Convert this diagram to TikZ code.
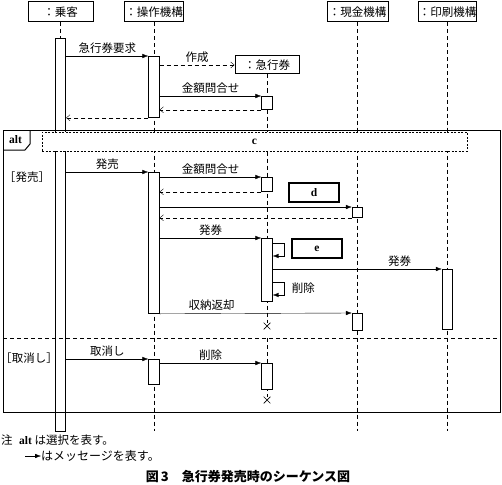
\documentclass[tikz,border=0pt]{standalone}
\usepackage{fontspec}
\usepackage{tikz}
\usetikzlibrary{arrows.meta,shapes.misc,backgrounds}
\setmainfont{Liberation Serif}
\newfontfamily\jp{Noto Sans CJK JP}
\newcommand{\jsize}{\fontsize{11.5pt}{13pt}\selectfont}

\begin{document}
\begin{tikzpicture}[x=1pt, y=-1pt, line width=0.8pt, font=\jp\jsize,
    head/.style={draw, line width=1pt, fill=white, minimum height=20pt, inner sep=0pt},
    life/.style={dash pattern=on 4pt off 3pt, line width=0.8pt},
    bar/.style={draw, fill=white, minimum width=10.5pt, inner sep=0pt, anchor=north},
    msg/.style={-{Latex[length=6pt,width=4.5pt]}},
    ret/.style={-{Straight Barb[length=3.5pt,width=6pt]}, dash pattern=on 4pt off 3pt},
    lbl/.style={above, inner sep=2.5pt},
    slot/.style={draw, line width=1.3pt, minimum width=50pt, minimum height=19pt, inner sep=0pt, font=\rmfamily\bfseries\jsize},
    guard/.style={draw, fill=white, dash pattern=on 2pt off 1.5pt, minimum width=425pt, minimum height=19pt, inner sep=0pt, font=\rmfamily\bfseries\jsize},
    kill/.style={cross out, draw, minimum size=6pt, inner sep=0pt, line width=0.7pt}]
    \useasboundingbox (0,0) rectangle (502,484);

    % lifeline heads
    \node[head, minimum width=65pt] (pas) at (60.5,12) {：乗客};
    \node[head, minimum width=59pt] (ope) at (154,12) {：操作機構};
    \node[head, minimum width=64pt, minimum height=18pt] (tk) at (267,65) {：急行券};
    \node[head, minimum width=61pt] (cash) at (357.5,12) {：現金機構};
    \node[head, minimum width=58pt] (prn) at (447.5,12) {：印刷機構};
    \coordinate (bot) at (0,431);
    \coordinate (sep) at (0,338);

    \node[kill] (x1) at (267,326) {};
    \node[kill] (x2) at (267,400) {};

    % activations
    \node[bar, minimum height=393pt] (pbar) at (60.5,38) {};
    \node[bar, minimum height=61pt] (obar1) at (154,56) {};
    \node[bar, minimum height=13pt] (tbar0) at (267,96) {};
    \node[bar, minimum height=141pt] (obar2) at (154,172) {};
    \node[bar, minimum height=14pt] (tbar1) at (267,177) {};
    \node[bar, minimum height=10pt] (cbar1) at (357.5,207) {};
    \node[bar, minimum height=63pt] (tbar2) at (267,238) {};
    \node[bar, minimum height=60pt] (rbar) at (447.5,269) {};
    \node[bar, minimum height=17pt] (cbar2) at (357.5,313) {};
    \node[bar, minimum height=25pt] (obar3) at (154,359) {};
    \node[bar, minimum height=26pt] (tbar3) at (267,363) {};

    % lifelines
    \begin{pgfonlayer}{background}
    \draw[life] (pas.south) -- (pbar.north);
    \draw[life] (ope.south) -- (ope.south |- bot);
    \draw[life] (tk.south) -- (x1.north);
    \draw[life] (tk.south |- sep) -- (x2.north);
    \draw[life] (cash.south) -- (cash.south |- bot);
    \draw[life] (prn.south) -- (prn.south |- bot);
    \end{pgfonlayer}

    % alt frame
    \node[draw, line width=1pt, anchor=north west, minimum width=497pt, minimum height=282pt, inner sep=0pt] (frame) at (3,130) {};
    \draw[line width=1pt] (3,150) -- (25,150) -- (30,144) -- (30,130);
    \node[font=\rmfamily\bfseries\jsize] (alt) at (15.5,140) {alt};
    \draw[life] (frame.west |- sep) -- (frame.east |- sep);
    \node[guard] (cond) at (254.5,141.5) {c};
    \node (g1) at (27,177) {［発売］};
    \node (g2) at (29,358) {［取消し］};

    % first part
    \draw[msg] (pbar.east |- obar1.north) -- node[lbl] {急行券要求} (obar1.north west);
    \draw[ret] (obar1.east |- tk.west) -- node[lbl] {作成} (tk.west);
    \draw[msg] (obar1.east |- tbar0.north) -- node[lbl] {金額問合せ} (tbar0.north west);
    \draw[ret] (tbar0.south west) -- (obar1.east |- tbar0.south);
    \draw[ret] (obar1.south west) -- (pbar.east |- obar1.south);

    % 発売
    \draw[msg] (pbar.east |- obar2.north) -- node[lbl] {発売} (obar2.north west);
    \draw[msg] (obar2.east |- tbar1.north) -- node[lbl] {金額問合せ} (tbar1.north west);
    \draw[ret] (tbar1.south west) -- (obar2.east |- tbar1.south);
    \node[slot] (d) at (314,192.5) {d};
    \draw[msg] (obar2.east |- cbar1.north) -- (cbar1.north west);
    \draw[ret] (cbar1.south west) -- (obar2.east |- cbar1.south);
    \draw[msg] (obar2.east |- tbar2.north) -- node[lbl] {発券} (tbar2.north west);
    \draw[msg] ([yshift=-5pt]tbar2.north east) -- ++(12,0) -- ++(0,13) -- ++(-12,0);
    \node[slot] (e) at (317,248.5) {e};
    \draw[msg] (tbar2.east |- rbar.north) -- node[lbl, pos=0.75] {発券} (rbar.north west);
    \draw[msg] ([yshift=-44pt]tbar2.north east) -- ++(12,0) -- node[right, inner xsep=7pt] {削除} ++(0,13) -- ++(-12,0);
    \draw[msg] (obar2.south east) -- node[lbl, pos=0.27] {収納返却} (cbar2.north west);

    % 取消し
    \draw[msg] (pbar.east |- obar3.north) -- node[lbl] {取消し} (obar3.north west);
    \draw[msg] (obar3.east |- tbar3.north) -- node[lbl] {削除} (tbar3.north west);

    % notes
    \node[anchor=west, inner sep=0pt] (n0) at (1,440) {注};
    \node[anchor=west, inner sep=0pt] (n1) at (19,440) {{\rmfamily\bfseries alt} は選択を表す。};
    \node[anchor=west, inner sep=0pt, font=\jp\fontsize{12pt}{14pt}\selectfont] (n2) at (41,456) {はメッセージを表す。};
    \draw[msg] ([xshift=-16pt]n2.west) -- (n2.west);
    \node[font=\jp\bfseries\fontsize{13pt}{15pt}\selectfont] (cap) at (248,477) {図\,3　急行券発売時のシーケンス図};
\end{tikzpicture}
\end{document}
